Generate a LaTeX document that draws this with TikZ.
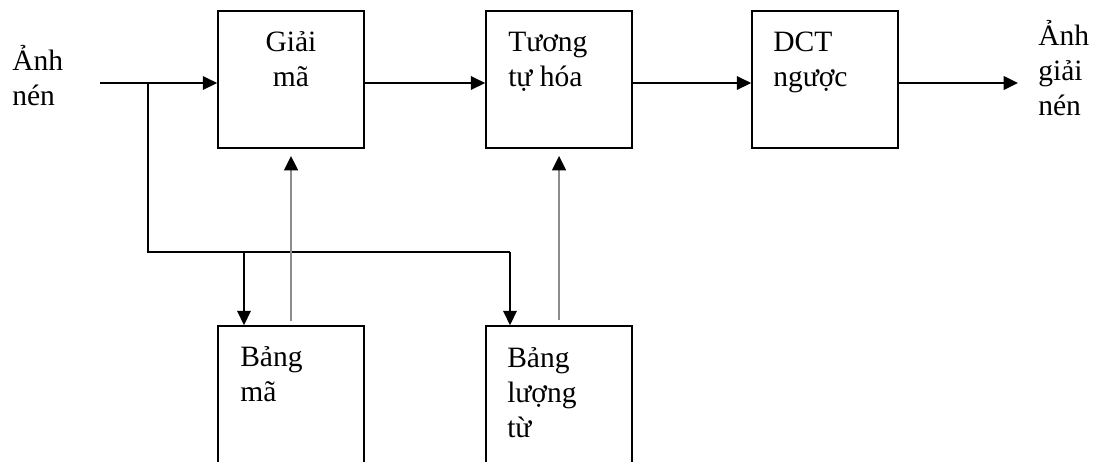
\documentclass[tikz,border=0pt]{standalone}
\usepackage{fontspec}
\setmainfont{Liberation Serif}
\usetikzlibrary{arrows.meta,positioning}
\tikzset{
  blk/.style={draw, line width=1.2pt, minimum width=36.5mm, minimum height=34.25mm, inner sep=0},
  txt/.style={align=left, inner sep=0, font=\fontsize{21pt}{24.8pt}\selectfont},
  line/.style={line width=1.4pt},
  arrow/.style={-{Triangle[length=3.6mm,width=3.4mm]}, line width=1.4pt},
  grayarrow/.style={-{Triangle[length=3.6mm,width=3.4mm,color=black]}, line width=1.7pt, draw=gray!90}
}

\begin{document}
\begin{tikzpicture}[x=0.25mm,y=-0.25mm]
  \clip (0,0) rectangle (1102,461);
  \node[blk] (giaima) at (291,79.5) {};
  \node[blk] (tuongtu) at (559,79.5) {};
  \node[blk] (dct) at (825,79.5) {};
  \node[blk] (bangma) at (291,394.5) {};
  \node[blk] (banglt) at (559,394.5) {};
  % anchor base = baseline of the last line
  \node[txt,anchor=base west] (in) at (12,105) {Ảnh\\nén};
  \node[txt,anchor=base west] (out) at (1038,115) {Ảnh\\giải\\nén};
  \node[txt,align=center,anchor=base] (giaimaT) at (291,86) {Giải\\mã};
  \node[txt,anchor=base west] (tuongtuT) at (508,86) {Tương\\tự hóa};
  \node[txt,anchor=base west] (dctT) at (773,86) {DCT\\ngược};
  \node[txt,anchor=base west] (bangmaT) at (240,401) {Bảng\\mã};
  \node[txt,anchor=base west] (bangltT) at (507,437) {Bảng\\lượng\\từ};
  \coordinate (src) at (100,83);
  \coordinate (split) at (148,83);
  \coordinate (busM) at (244,252);
  \coordinate (busR) at (510,252);
  \coordinate (dst) at (1018,83);
  \draw[arrow] (src) -- (src -| giaima.west);
  \draw[arrow] (giaima.east |- src) -- (tuongtu.west |- src);
  \draw[arrow] (tuongtu.east |- src) -- (dct.west |- src);
  \draw[arrow] (dct.east |- src) -- (dst);
  \draw[line] (split) |- (busR);
  \draw[arrow] (busM) -- (busM |- bangma.north);
  \draw[arrow] (busR) -- (busR |- banglt.north);
  \draw[grayarrow,shorten <=3pt,shorten >=5pt] (bangma.north) -- (giaima.south);
  \draw[grayarrow,shorten <=4pt,shorten >=5pt] (banglt.north) -- (tuongtu.south);
\end{tikzpicture}
\end{document}
